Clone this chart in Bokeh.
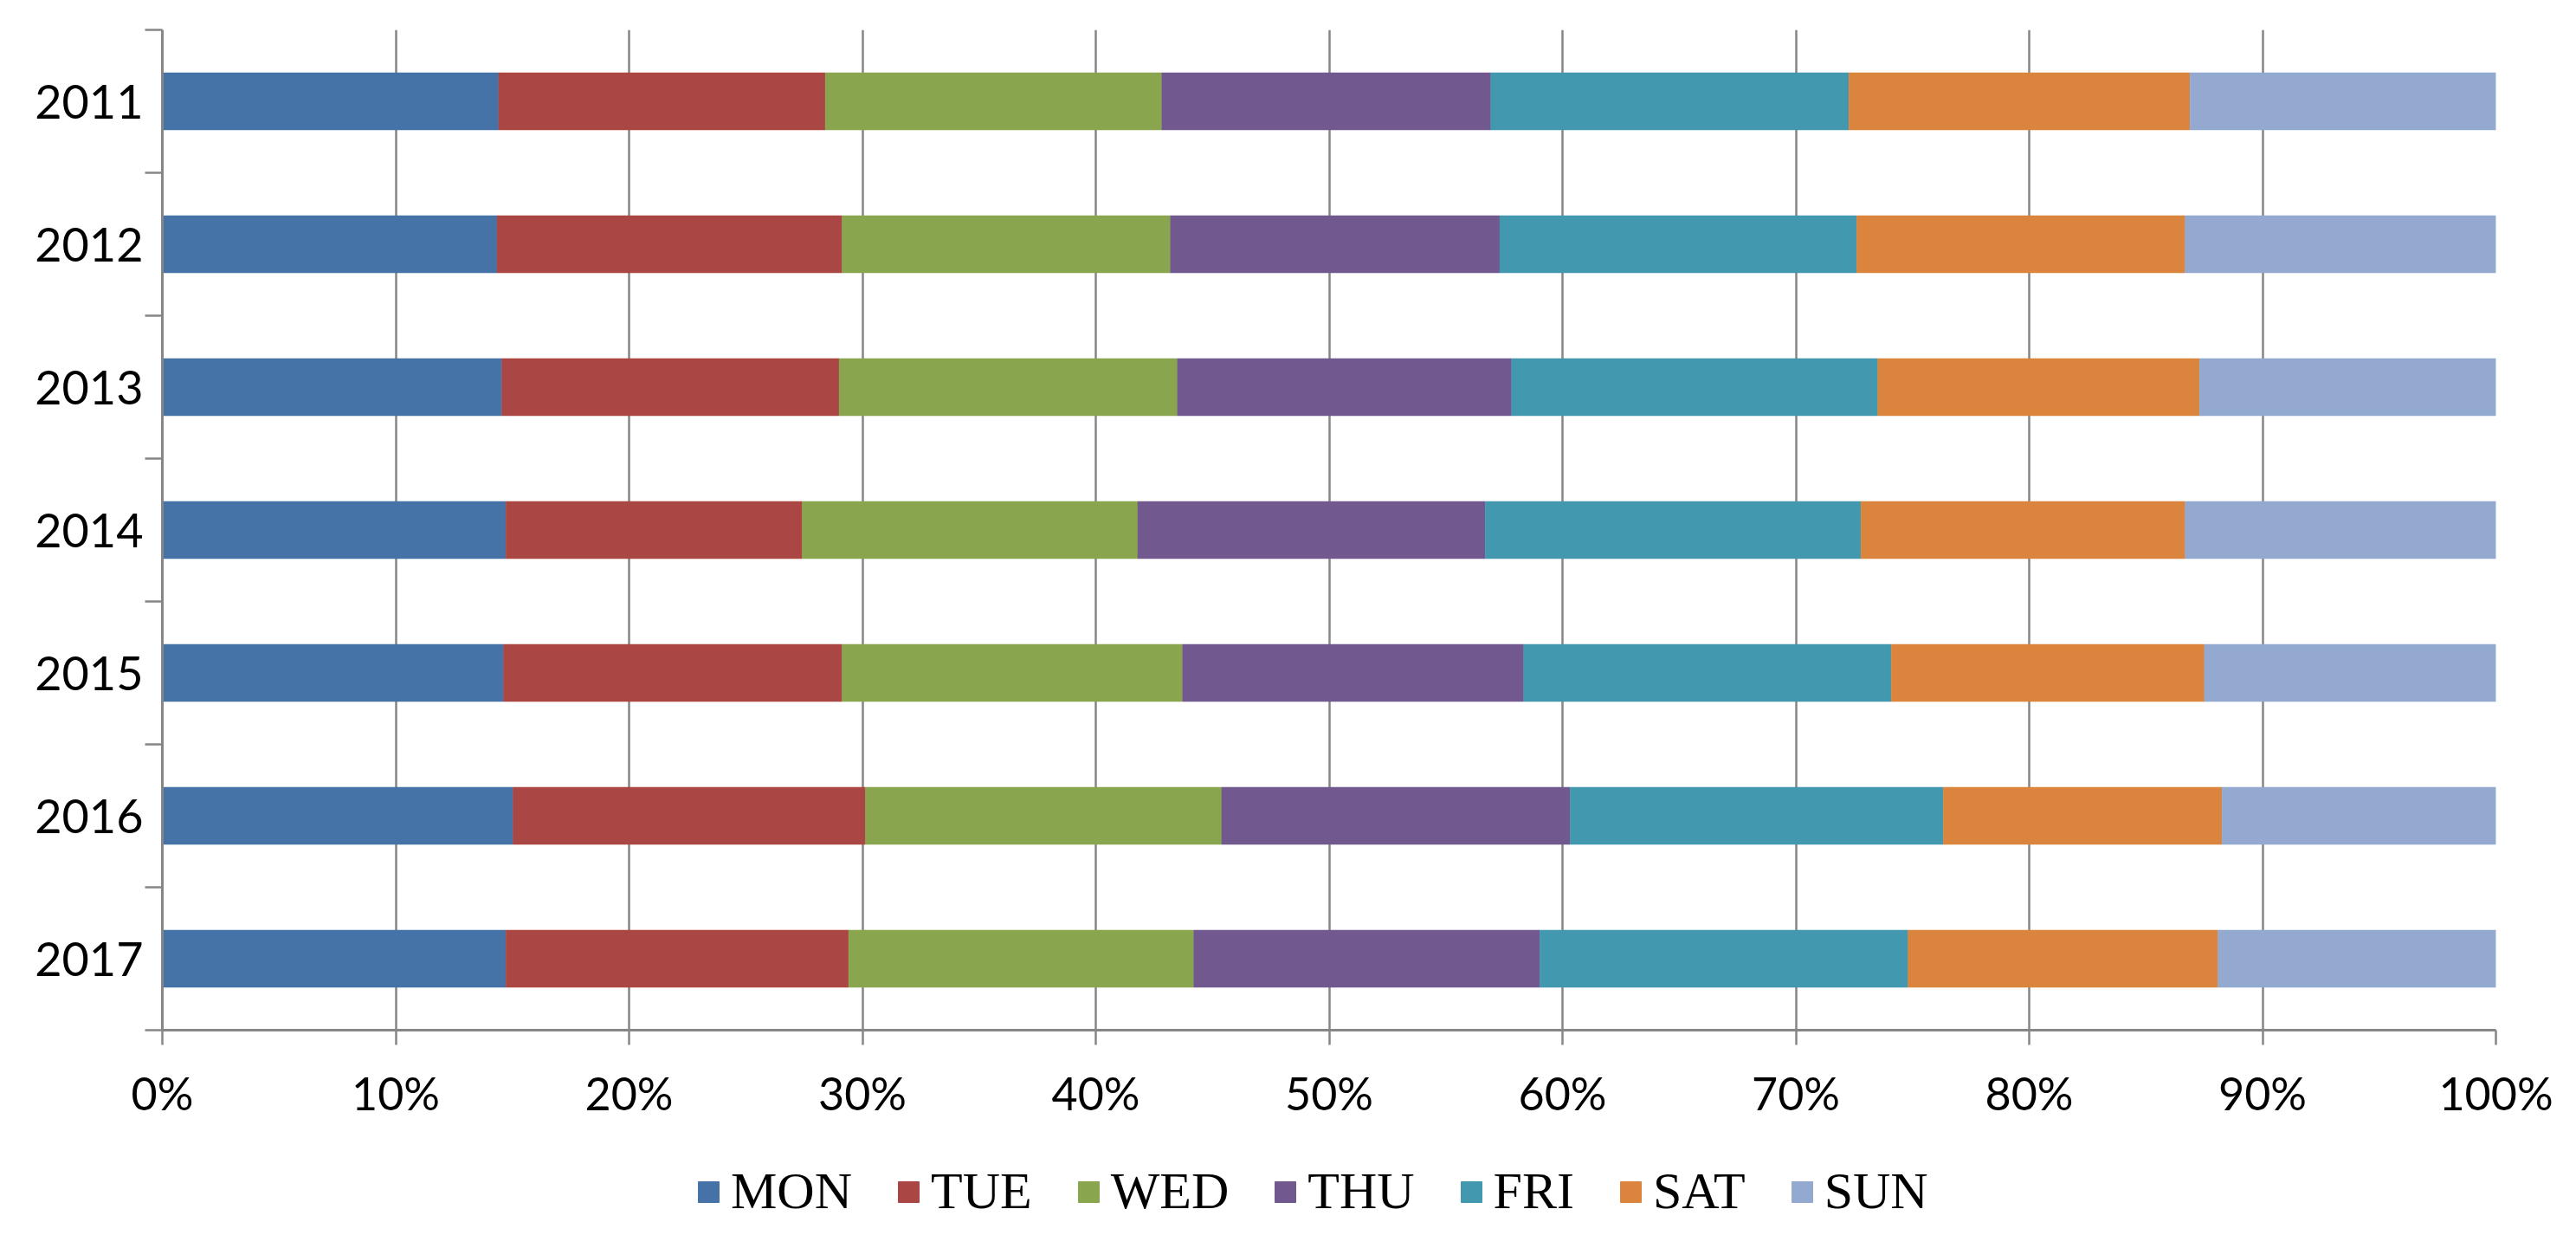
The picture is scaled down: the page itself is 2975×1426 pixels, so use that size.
from bokeh.plotting import figure
from bokeh.layouts import column
from bokeh.models import (ColumnDataSource, Range1d, LinearAxis, FixedTicker,
                          Legend, LegendItem, PrintfTickFormatter, Grid)
from bokeh.embed import file_html
from bokeh.resources import INLINE

years = ["2011", "2012", "2013", "2014", "2015", "2016", "2017"]
days = ["MON", "TUE", "WED", "THU", "FRI", "SAT", "SUN"]
colors = ["#4572A7", "#AA4643", "#89A54E", "#71588F", "#4198AF", "#DB843D", "#93A9CF"]

mon = [14.41, 14.34, 14.55, 14.72, 14.62, 15.03, 14.72]
tue = [14.00, 14.79, 14.45, 12.70, 14.51, 15.10, 14.69]
wed = [14.42, 14.07, 14.50, 14.38, 14.59, 15.27, 14.79]
thu = [14.10, 14.11, 14.32, 14.89, 14.62, 14.93, 14.83]
fri = [15.34, 15.30, 15.69, 16.10, 15.75, 15.99, 15.78]
sat = [14.62, 14.07, 13.79, 13.89, 13.42, 11.94, 13.28]
sun = [13.11, 13.32, 12.70, 13.32, 12.49, 11.74, 11.91]

x_ticks = [0, 10, 20, 30, 40, 50, 60, 70, 80, 90, 100]

n = len(years)
ypos = [n - i - 0.5 for i in range(n)]
boundaries = list(range(0, n + 1))

source = ColumnDataSource(data=dict(y=ypos, MON=mon, TUE=tue, WED=wed, THU=thu,
                                    FRI=fri, SAT=sat, SUN=sun))

GRAY = "#868686"
TICK_FONT = "Lato"
W = 2959
H_MAIN = 1300
H_LEG = 110

p = figure(width=W, height=H_MAIN, output_backend="svg", toolbar_location=None,
           x_range=Range1d(0, 100), y_range=Range1d(0, n),
           x_axis_location=None, y_axis_location=None,
           min_border_left=187, min_border_right=77, min_border_top=34,
           min_border_bottom=111)
p.outline_line_color = None
p.background_fill_color = "white"
p.border_fill_color = "white"

renderers = p.hbar_stack(days, y="y", height=0.4, color=colors, source=source,
                         line_width=0.5)

# x axis
xaxis = LinearAxis(ticker=FixedTicker(ticks=x_ticks),
                   formatter=PrintfTickFormatter(format="%d%%"))
xaxis.axis_line_color = GRAY
xaxis.axis_line_width = 3
xaxis.major_tick_line_color = GRAY
xaxis.major_tick_line_width = 2.5
xaxis.major_tick_out = 17
xaxis.major_tick_in = 0
xaxis.minor_tick_line_color = None
xaxis.major_label_text_font = TICK_FONT
xaxis.major_label_text_font_size = "52px"
xaxis.major_label_text_color = "black"
xaxis.major_label_standoff = 24
p.add_layout(xaxis, "below")

# y axis: labels at category centres, tick marks at category boundaries
yaxis = LinearAxis(ticker=FixedTicker(ticks=ypos, minor_ticks=boundaries))
yaxis.major_label_overrides = {yv: yr for yv, yr in zip(ypos, years)}
yaxis.axis_line_color = GRAY
yaxis.axis_line_width = 3
yaxis.major_tick_line_color = None
yaxis.major_tick_out = 0
yaxis.major_tick_in = 0
yaxis.minor_tick_line_color = GRAY
yaxis.minor_tick_line_width = 2.5
yaxis.minor_tick_out = 20
yaxis.minor_tick_in = 0
yaxis.major_label_text_font = TICK_FONT
yaxis.major_label_text_font_size = "54px"
yaxis.major_label_text_color = "black"
yaxis.major_label_standoff = 2
p.add_layout(yaxis, "left")

# vertical gridlines
p.xgrid.visible = False
p.ygrid.visible = False
vgrid = Grid(dimension=0, ticker=FixedTicker(ticks=x_ticks),
             grid_line_color=GRAY, grid_line_width=2.5, level="underlay")
p.add_layout(vgrid)

# legend strip below the chart (hidden copies of the series feed the legend)
pl = figure(width=W, height=H_LEG, output_backend="svg", toolbar_location=None,
            x_range=Range1d(0, 100), y_range=Range1d(0, n),
            x_axis_location=None, y_axis_location=None,
            min_border_left=0, min_border_right=0, min_border_top=0,
            min_border_bottom=0)
pl.outline_line_color = None
pl.xgrid.visible = False
pl.ygrid.visible = False
leg_renderers = pl.hbar_stack(days, y="y", height=0.4, color=colors, source=source)
for r in leg_renderers:
    r.visible = False

legend = Legend(items=[LegendItem(label=d, renderers=[r]) for d, r in zip(days, leg_renderers)],
                orientation="horizontal", location=(616, 0))
legend.label_text_font = "Liberation Serif"
legend.label_text_font_size = "60px"
legend.label_text_color = "black"
legend.glyph_width = 30
legend.glyph_height = 30
legend.label_standoff = 11
legend.spacing = 50
legend.padding = 0
legend.margin = 0
legend.border_line_color = None
legend.background_fill_alpha = 0
legend.inactive_fill_alpha = 0
pl.add_layout(legend, "center")

open("out.html", "w").write(file_html(column(p, pl), INLINE))
